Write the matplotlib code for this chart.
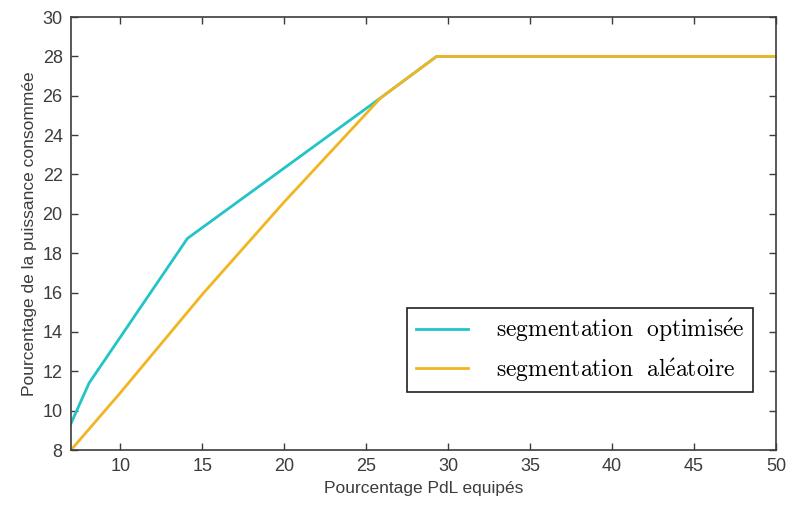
import numpy as np
import matplotlib.pyplot as plt

# Données
x_opt = [7, 8.1, 14.1, 25.9, 29.3, 50]
y_opt = [9.35, 11.4, 18.75, 25.9, 28.0, 28.0]

x_alea = [7, 10, 15, 20, 25.9, 29.3, 50]
y_alea = [8.0, 10.9, 15.9, 20.6, 25.9, 28.0, 28.0]

xticks = [10, 15, 20, 25, 30, 35, 40, 45, 50]
yticks = list(range(8, 31, 2))

plt.rcParams['font.family'] = ['Liberation Sans', 'DejaVu Sans']
plt.rcParams['mathtext.fontset'] = 'cm'

grey = '#3c3c3c'
fig = plt.figure(figsize=(7.89, 5.07), dpi=100)
ax = fig.add_axes([0.090, 0.1124, 0.8935, 0.854])

ax.plot(x_opt, y_opt, color='#22c4c8', lw=2, label=r'$\mathrm{segmentation\ \ optimis\acute{e}e}$')
ax.plot(x_alea, y_alea, color='#f2b522', lw=2, label=r'$\mathrm{segmentation\ \ al\acute{e}atoire}$')

ax.set_xlim(7, 50)
ax.set_ylim(8, 30)
ax.set_xticks(xticks)
ax.set_yticks(yticks)
ax.tick_params(direction='in', top=True, right=True, length=5, width=1,
               color=grey, labelcolor=grey, labelsize=13, pad=6)
for s in ax.spines.values():
    s.set_color(grey)
    s.set_linewidth(1.2)

ax.set_xlabel('Pourcentage PdL equipés', fontsize=12.5, color=grey, labelpad=4)
ax.set_ylabel('Pourcentage de la puissance consommée', fontsize=12.5, color=grey, labelpad=4)

leg = ax.legend(loc='lower right', bbox_to_anchor=(0.967, 0.134), fontsize=17,
                frameon=True, fancybox=False, edgecolor='#202020', framealpha=1,
                handlelength=2.2, borderpad=0.35, labelspacing=0.5, handletextpad=1.2,
                borderaxespad=0)
leg.get_frame().set_linewidth(1.2)

fig.savefig('out.png', dpi=100)
